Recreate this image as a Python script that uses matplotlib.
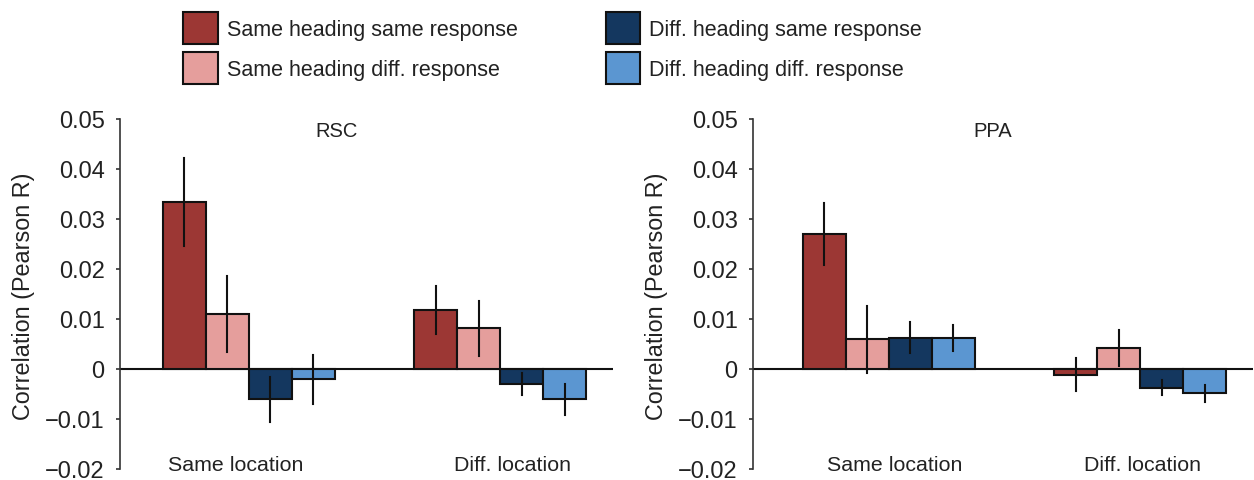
import numpy as np
import matplotlib
matplotlib.use("Agg")
import matplotlib.pyplot as plt
from matplotlib.patches import Patch

plt.rcParams['font.family'] = ['Liberation Sans', 'DejaVu Sans']

# Data
conditions = ["Same heading same response", "Same heading diff. response",
              "Diff. heading same response", "Diff. heading diff. response"]
locations = ["Same location", "Diff. location"]
colors = ["#9c3734", "#e59e9c", "#14375f", "#5b96d1"]

rsc_means = [[0.0335, 0.0110, -0.0060, -0.0020],
             [0.0118, 0.0082, -0.0030, -0.0060]]
rsc_errs = [[0.0088, 0.0076, 0.0045, 0.0049],
            [0.0048, 0.0055, 0.0022, 0.0031]]
ppa_means = [[0.0270, 0.0060, 0.0063, 0.0063],
             [-0.0011, 0.0042, -0.0037, -0.0048]]
ppa_errs = [[0.0062, 0.0067, 0.0031, 0.0026],
            [0.0033, 0.0036, 0.0015, 0.0017]]

W, H = 1254, 481
fig = plt.figure(figsize=(W / 100, H / 100), dpi=100)

bar_w = 0.171
txt_col = "#222222"


def draw_panel(ax, means, errs, title, title_x, loc_x, xlim):
    means = np.array(means)
    errs = np.array(errs)
    for g in range(len(locations)):
        for i in range(len(conditions)):
            x = g + (i - 1.5) * bar_w
            ax.bar(x, means[g, i], width=bar_w, color=colors[i],
                   edgecolor="#111111", linewidth=1.5, zorder=2)
            ax.plot([x, x], [means[g, i] - errs[g, i], means[g, i] + errs[g, i]],
                    color="#111111", linewidth=1.5, zorder=3)
    ax.axhline(0, color="#111111", linewidth=1.5, zorder=1)
    ax.set_xlim(*xlim)
    ax.set_ylim(-0.02, 0.05)
    ax.set_yticks([-0.02, -0.01, 0, 0.01, 0.02, 0.03, 0.04, 0.05])
    ax.set_yticklabels(["\u22120.02", "\u22120.01", "0", "0.01", "0.02",
                        "0.03", "0.04", "0.05"])
    ax.tick_params(axis="y", labelsize=17, length=3, width=1.2,
                   colors="#333333", labelcolor=txt_col, pad=8)
    ax.set_xticks([])
    for s in ["top", "right", "bottom"]:
        ax.spines[s].set_visible(False)
    ax.spines["left"].set_color("#333333")
    ax.spines["left"].set_linewidth(1.2)
    ax.set_ylabel("Correlation (Pearson R)", fontsize=16.8, color=txt_col)
    ax.yaxis.set_label_coords(-0.172, 0.497)
    ax.text(title_x, 0.0466, title, fontsize=14.5, color=txt_col,
            ha="center", va="baseline")
    for g, name in enumerate(locations):
        ax.text(loc_x[g], -0.0203, name, fontsize=15.4, color=txt_col,
                ha="center", va="baseline")


bottom = 11 / H
height = (470 - 120) / H

ax1 = fig.add_axes([120 / W, bottom, (613 - 120) / W, height])
draw_panel(ax1, rsc_means, rsc_errs, "RSC", 0.35, [-0.05, 1.05],
           (-0.511, 1.449))

ax2 = fig.add_axes([753 / W, bottom, (1253 - 753) / W, height])
draw_panel(ax2, ppa_means, ppa_errs, "PPA", 0.415, [0.026, 1.008],
           (-0.539, 1.449))
ax2.yaxis.set_label_coords(-0.172 * 493 / 500, 0.497)

handles = [Patch(facecolor=c, edgecolor="#111111", linewidth=1.5) for c in colors]
fig.legend(handles, conditions, ncol=2, loc="upper left",
           bbox_to_anchor=(164 / W, 1 + 6 / H), frameon=False,
           fontsize=15.5, handlelength=1.6, handleheight=1.87,
           handletextpad=0.42, labelspacing=0.4, columnspacing=4.1,
           labelcolor=txt_col)

fig.savefig("out.png", dpi=100)
